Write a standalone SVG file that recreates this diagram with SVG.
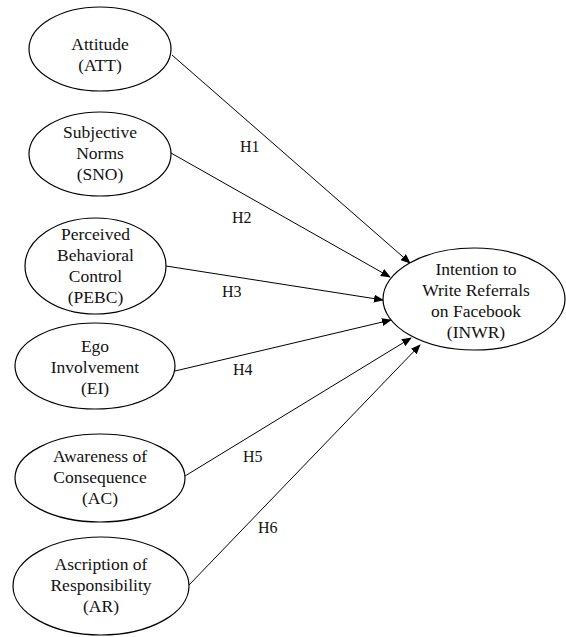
<svg xmlns="http://www.w3.org/2000/svg" width="566" height="637" viewBox="0 0 566 637">
<style>
.n ellipse{fill:#fff;stroke:#000;stroke-width:1.2}
.n text{font-family:"Liberation Serif","Times New Roman",serif;font-size:17.5px;fill:#111;text-anchor:middle}
.e line{stroke:#000;stroke-width:1}
.lbl{font-family:"Liberation Serif","Times New Roman",serif;font-size:16px;fill:#111}
</style>
<defs>
<marker id="ah" markerWidth="10" markerHeight="8" refX="9" refY="4" orient="auto" markerUnits="userSpaceOnUse">
<path d="M0,0 L10,4 L0,8 Z" fill="#000"/>
</marker>
</defs>
<rect width="566" height="637" fill="#fff"/>
<g class="e" id="connectors">
<line x1="172" y1="55" x2="410" y2="263" marker-end="url(#ah)"/>
<line x1="171" y1="153" x2="390" y2="277" marker-end="url(#ah)"/>
<line x1="166" y1="266" x2="383" y2="300" marker-end="url(#ah)"/>
<line x1="175" y1="371" x2="391" y2="320" marker-end="url(#ah)"/>
<line x1="185" y1="476" x2="411" y2="338" marker-end="url(#ah)"/>
<line x1="189" y1="585" x2="420" y2="345" marker-end="url(#ah)"/>
<text class="lbl" x="240" y="152">H1</text>
<text class="lbl" x="232" y="223">H2</text>
<text class="lbl" x="222" y="297">H3</text>
<text class="lbl" x="233" y="375">H4</text>
<text class="lbl" x="243" y="462">H5</text>
<text class="lbl" x="258" y="533">H6</text>
</g>
<g class="n" id="att">
<ellipse cx="100" cy="49" rx="71" ry="42"/>
<text x="100" y="50">Attitude</text>
<text x="100" y="71">(ATT)</text>
</g>
<g class="n" id="sno">
<ellipse cx="100" cy="154" rx="71" ry="42"/>
<text x="100" y="138">Subjective</text>
<text x="100" y="159">Norms</text>
<text x="100" y="180">(SNO)</text>
</g>
<g class="n" id="pebc">
<ellipse cx="95.5" cy="266" rx="70.5" ry="48"/>
<text x="95.5" y="240">Perceived</text>
<text x="95.5" y="261">Behavioral</text>
<text x="95.5" y="282">Control</text>
<text x="95.5" y="303">(PEBC)</text>
</g>
<g class="n" id="ei">
<ellipse cx="95" cy="366" rx="80" ry="43"/>
<text x="95" y="352">Ego</text>
<text x="95" y="373">Involvement</text>
<text x="95" y="394">(EI)</text>
</g>
<g class="n" id="ac">
<ellipse cx="100" cy="478" rx="85" ry="44"/>
<text x="100" y="462">Awareness of</text>
<text x="100" y="483">Consequence</text>
<text x="100" y="504">(AC)</text>
</g>
<g class="n" id="ar">
<ellipse cx="101" cy="586" rx="88" ry="49"/>
<text x="101" y="570">Ascription of</text>
<text x="101" y="591">Responsibility</text>
<text x="101" y="612">(AR)</text>
</g>
<g class="n" id="inwr">
<ellipse cx="474" cy="299" rx="91" ry="51"/>
<text x="476" y="275">Intention to</text>
<text x="476" y="296">Write Referrals</text>
<text x="476" y="317">on Facebook</text>
<text x="476" y="338">(INWR)</text>
</g>
</svg>
